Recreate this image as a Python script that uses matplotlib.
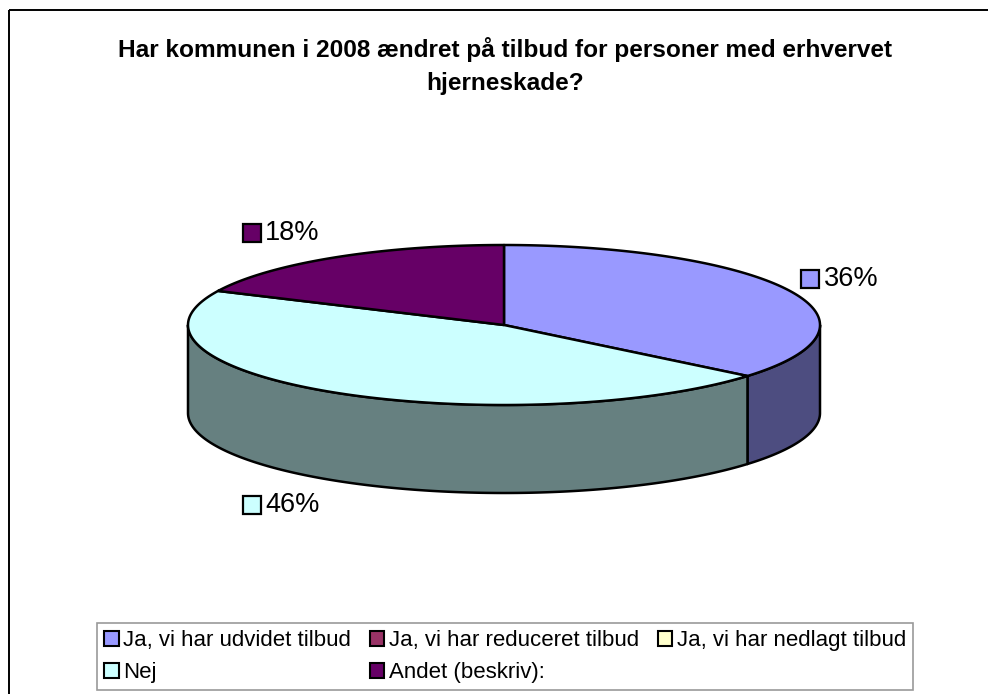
import numpy as np
import matplotlib
matplotlib.use("Agg")
import matplotlib.pyplot as plt
from matplotlib.patches import Polygon, Rectangle, Patch
from matplotlib.offsetbox import DrawingArea, TextArea, HPacker, AnnotationBbox

plt.rcParams['font.family'] = ['Liberation Sans', 'DejaVu Sans']

# ---- data ----
title = "Har kommunen i 2008 ændret på tilbud for personer med erhvervet\nhjerneskade?"
categories = ["Ja, vi har udvidet tilbud", "Ja, vi har reduceret tilbud",
              "Ja, vi har nedlagt tilbud", "Nej", "Andet (beskriv):"]
shares = [36, 0, 0, 46, 18]
top_colors = ["#9999FF", "#993366", "#FFFFCC", "#CCFFFF", "#660066"]
side_colors = ["#4D4D80", "#4D1A33", "#808066", "#668080", "#330033"]

# ---- layout ----
W, H = 988, 694
fig = plt.figure(figsize=(W / 100, H / 100), dpi=100)
ax = fig.add_axes([0, 0, 1, 1])
ax.set_xlim(0, W)
ax.set_ylim(H, 0)
ax.axis('off')

cx, cy, rx, ry, depth = 504, 325, 316, 80, 88
lw = 1.8

# outer chart border (right/bottom run off the canvas)
ax.add_patch(Rectangle((9, 10), W + 20, H + 20, fill=False, ec='black', lw=1.4, zorder=0))

vals = np.array(shares, dtype=float)
fr = vals / vals.sum()
edges = np.concatenate([[0], np.cumsum(fr)]) * 360.0  # clockwise from 12 o'clock


def pt(theta_deg, dy=0.0):
    t = np.radians(theta_deg)
    return cx + rx * np.sin(t), cy - ry * np.cos(t) + dy


# side walls (front half: 90..270 degrees)
for i in range(len(vals)):
    if vals[i] <= 0:
        continue
    a0, a1 = edges[i], edges[i + 1]
    lo, hi = max(a0, 90.0), min(a1, 270.0)
    if hi <= lo:
        continue
    th = np.linspace(lo, hi, 200)
    xs, ys = pt(th)
    xb, yb = pt(th[::-1], depth)
    poly = np.column_stack([np.concatenate([xs, xb]), np.concatenate([ys, yb])])
    ax.add_patch(Polygon(poly, closed=True, fc=side_colors[i], ec='black', lw=lw,
                         joinstyle='round', zorder=2))

# top faces
for i in range(len(vals)):
    if vals[i] <= 0:
        continue
    th = np.linspace(edges[i], edges[i + 1], 300)
    xs, ys = pt(th)
    poly = np.column_stack([np.concatenate([[cx], xs]), np.concatenate([[cy], ys])])
    ax.add_patch(Polygon(poly, closed=True, fc=top_colors[i], ec='black', lw=lw,
                         joinstyle='round', zorder=3))

# data labels
ky = 1.36
for i in range(len(vals)):
    if vals[i] <= 0:
        continue
    mid = (edges[i] + edges[i + 1]) / 2
    t = np.radians(mid)
    right = np.sin(t) > 0
    kx = 1.04 if right else 1.09
    lx = cx + kx * rx * np.sin(t)
    ly = cy - ky * ry * np.cos(t) + (depth if np.cos(t) < 0 else 0)
    da = DrawingArea(13, 13, 0, 0)
    da.add_artist(Rectangle((0, 0), 13, 13, fc=top_colors[i], ec='black', lw=1.6))
    ta = TextArea(f"{shares[i]:.0f}%", textprops=dict(fontsize=19.5, color='black'))
    box = HPacker(children=[da, ta], align='center', pad=0, sep=3)
    align = (0, 0.5) if right else (1, 0.5)
    ab = AnnotationBbox(box, (lx, ly), xycoords='data', box_alignment=align,
                        frameon=False, pad=0)
    ax.add_artist(ab)

# title
fig.text(505 / W, 1 - 66 / H, title, ha='center', va='center', fontsize=17.6,
         fontweight='bold', linespacing=1.6)

# legend (row-wise order for 3 columns)
handles = [Patch(fc=c, ec='black', lw=1.5) for c in top_colors]
order = [0, 3, 1, 4, 2]
leg = fig.legend([handles[j] for j in order], [categories[j] for j in order],
                 ncol=3, loc='upper left', bbox_to_anchor=(97 / W, 1 - 623 / H),
                 fontsize=16, frameon=True, fancybox=False, edgecolor='#808080',
                 handlelength=0.65, handleheight=0.65, handletextpad=0.2,
                 columnspacing=0.85, labelspacing=0.5, borderpad=0.32, borderaxespad=0)
leg.get_frame().set_linewidth(1.2)

fig.savefig("out.png", dpi=100)
